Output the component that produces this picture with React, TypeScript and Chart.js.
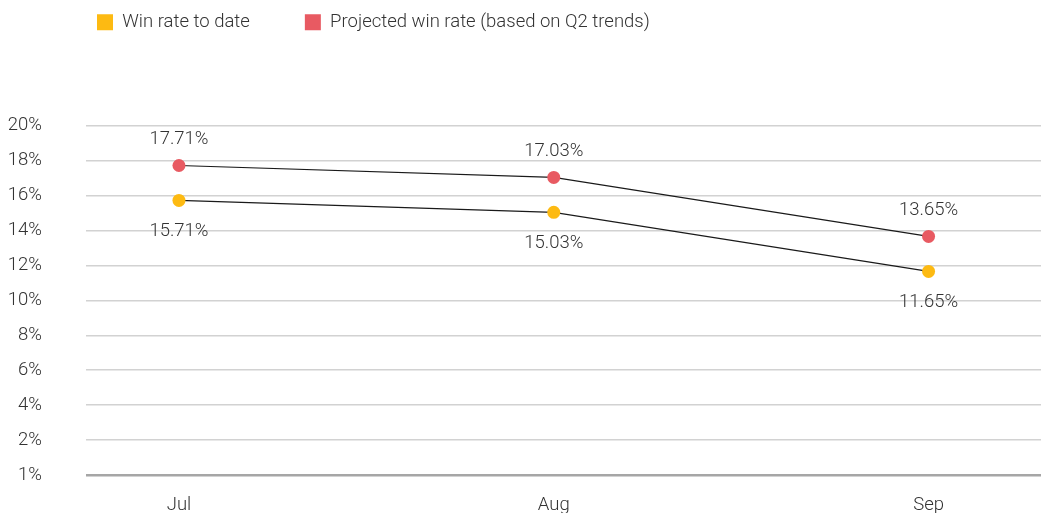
import React, { useEffect, useRef } from 'react';
import { Chart, registerables } from 'chart.js';

Chart.register(...registerables);

const months = ['Jul', 'Aug', 'Sep'];
const winRateToDate = [15.71, 15.03, 11.65];
const projectedWinRate = [17.71, 17.03, 13.65];
const seriesNames = ['Win rate to date', 'Projected win rate (based on Q2 trends)'];
const yTickValues = [0, 2, 4, 6, 8, 10, 12, 14, 16, 18, 20];
const yTickLabels = ['1%', '2%', '4%', '6%', '8%', '10%', '12%', '14%', '16%', '18%', '20%'];

const YELLOW = '#FDBA12';
const RED = '#E85A62';
const TEXT = '#333333';
const FONT = 'Roboto';
const FSIZE = 18.5;
const FWEIGHT = '300';

const dataLabelPlugin = {
  id: 'dataLabelPlugin',
  afterDatasetsDraw(chart: any) {
    const ctx = chart.ctx;
    ctx.save();
    ctx.font = `${FWEIGHT} ${FSIZE}px ${FONT}`;
    ctx.fillStyle = TEXT;
    ctx.textAlign = 'center';
    ctx.textBaseline = 'middle';
    chart.data.datasets.forEach((ds: any, di: number) => {
      const meta = chart.getDatasetMeta(di);
      const above = ds.labelAbove;
      meta.data.forEach((pt: any, i: number) => {
        const v = ds.data[i].y as number;
        ctx.fillText(v.toFixed(2) + '%', pt.x, above ? pt.y - 26 : pt.y + 31);
      });
    });
    ctx.restore();
  },
};

const legendShiftPlugin = {
  id: 'legendShiftPlugin',
  afterLayout(chart: any) {
    const l = chart.legend;
    if (!l) return;
    const dx = 42 - l.left;
    l.left += dx;
    l.right += dx;
    const dy = -42 - l.top;
    l.top += dy;
    l.bottom += dy;
  },
};

export default function App() {
  const ref = useRef<HTMLCanvasElement | null>(null);

  useEffect(() => {
    if (!ref.current) return;
    const chart = new Chart(ref.current, {
      type: 'line',
      data: {
        datasets: [
          {
            label: seriesNames[0],
            data: winRateToDate.map((v, i) => ({ x: i, y: v })),
            borderColor: '#1a1a1a',
            borderWidth: 1.2,
            backgroundColor: YELLOW,
            pointBackgroundColor: YELLOW,
            pointBorderColor: YELLOW,
            pointBorderWidth: 0,
            pointRadius: 6.5,
            labelAbove: false,
          } as any,
          {
            label: seriesNames[1],
            data: projectedWinRate.map((v, i) => ({ x: i, y: v })),
            borderColor: '#1a1a1a',
            borderWidth: 1.2,
            backgroundColor: RED,
            pointBackgroundColor: RED,
            pointBorderColor: RED,
            pointBorderWidth: 0,
            pointRadius: 6.5,
            labelAbove: true,
          } as any,
        ],
      },
      options: {
        animation: false,
        responsive: false,
        layout: { autoPadding: false, padding: { top: 42, left: 0, right: 0, bottom: 0 } },
        plugins: {
          tooltip: { enabled: false },
          legend: {
            display: true,
            position: 'top',
            align: 'start',
            labels: {
              boxWidth: 16,
              boxHeight: 16,
              padding: 55,
              color: TEXT,
              font: { family: FONT, size: FSIZE, weight: FWEIGHT },
              generateLabels: (c: any) => {
                const items = (Chart.defaults.plugins.legend.labels as any).generateLabels(c);
                return items.map((it: any) => ({ ...it, strokeStyle: it.fillStyle, lineWidth: 0 }));
              },
            },
          },
        },
        scales: {
          x: {
            type: 'linear',
            min: -0.248,
            max: 2.3,
            grid: { display: false, drawTicks: false },
            border: { display: false },
            afterBuildTicks: (scale: any) => {
              scale.ticks = months.map((_, i) => ({ value: i }));
            },
            afterFit: (scale: any) => {
              scale.height = 38;
            },
            ticks: {
              padding: 19,
              maxRotation: 0,
              color: TEXT,
              font: { family: FONT, size: FSIZE, weight: FWEIGHT },
              callback: (v: any) => months[v as number] ?? '',
            },
          },
          y: {
            type: 'linear',
            min: 0,
            max: 20,
            afterBuildTicks: (scale: any) => {
              scale.ticks = yTickValues.map((v) => ({ value: v }));
            },
            afterFit: (scale: any) => {
              scale.width = 86;
              scale.paddingTop = 11;
              scale.paddingBottom = 11;
            },
            grid: {
              drawTicks: false,
              color: (ctx: any) => (ctx.tick && ctx.tick.value === 0 ? '#a6a6a6' : '#d2d2d2'),
              lineWidth: (ctx: any) => (ctx.tick && ctx.tick.value === 0 ? 2.5 : 1.4),
            },
            border: { display: false },
            ticks: {
              padding: 44,
              color: TEXT,
              font: { family: FONT, size: FSIZE, weight: FWEIGHT },
              callback: (v: any) => {
                const idx = yTickValues.indexOf(v as number);
                return idx >= 0 ? yTickLabels[idx] : '';
              },
            },
          },
        },
      } as any,
      plugins: [dataLabelPlugin, legendShiftPlugin],
    });
    return () => chart.destroy();
  }, []);

  return (
    <div style={{ position: 'absolute', left: 0, top: 0, width: 1041, height: 513 }}>
      <canvas ref={ref} width={1041} height={513} style={{ width: 1041, height: 513, display: 'block' }} />
    </div>
  );
}
